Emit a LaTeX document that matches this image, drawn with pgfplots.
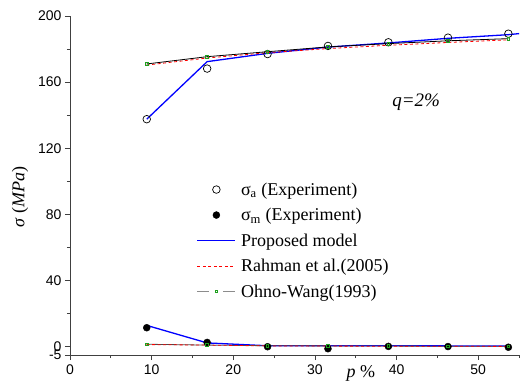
\documentclass[border=0pt]{standalone}
\usepackage{fontspec}
\setmainfont{Liberation Serif}
\newfontfamily\arialfont{Liberation Sans}
\usepackage{pgfplots}
\pgfplotsset{compat=1.18}
\definecolor{owgreen}{RGB}{30,160,30}
\pgfplotsset{
  oleg/.style={legend image code/.code={\draw[black, line width=0.7pt] (19pt,0pt) circle[radius=3.8pt];}},
  fleg/.style={legend image code/.code={\fill[black] (19pt,0pt) circle[radius=3.5pt];}},
  bleg/.style={legend image code/.code={\draw[blue, line width=1.3pt] (0pt,0pt) -- (38pt,0pt);}},
  rleg/.style={legend image code/.code={\draw[red, line width=0.8pt, dash pattern=on 3pt off 2.5pt] (0pt,0pt) -- (38pt,0pt);}},
  owlegend/.style={legend image code/.code={\draw[black!45, line width=1.3pt] (0pt,0pt) -- (12pt,0pt); \draw[black!45, line width=1.3pt] (26pt,0pt) -- (38pt,0pt); \draw[owgreen, line width=0.8pt] (17.7pt,-1.3pt) rectangle (20.3pt,1.3pt);}},
}
\begin{document}
\begin{tikzpicture}
\useasboundingbox (-70pt,-27pt) rectangle (451pt,355pt);
\begin{axis}[
  at={(0pt,0pt)}, anchor=south west,
  scale only axis, width=449pt, height=339pt,
  xmin=0, xmax=55, ymin=-5, ymax=200,
  axis x line*=bottom, axis y line*=left,
  axis line style={line width=0.8pt, black!75},
  tick align=outside, tick style={black!75, line width=0.8pt},
  major tick length=5pt, minor tick length=3pt,
  xtick={0,10,20,30,40,50}, minor xtick={5,15,25,35,45,55},
  xticklabels={0,10,20,30,40,50},
  ytick={-5,0,40,80,120,160,200}, minor ytick={20,60,100,140,180},
  yticklabels={-5,0,40,80,120,160,200},
  ticklabel style={font=\arialfont\fontsize{14}{14}\selectfont},
  xticklabel style={yshift=-1pt},
  xlabel={\textit{p} \%},
  xlabel style={at={(rel axis cs:0.648,0)}, anchor=center, yshift=-18pt, font=\fontsize{18}{18}\selectfont},
  ylabel={\textit{σ} (\textit{MPa})},
  ylabel style={at={(rel axis cs:-0.111,0.466)}, anchor=center, font=\fontsize{18}{18}\selectfont},
  legend style={at={(axis cs:15.5,100.6)}, anchor=north west, draw=none, fill=none,
    font=\fontsize{18}{19}\selectfont, row sep=7.5pt, column sep=3pt, inner sep=0pt, cells={anchor=west}},
  legend cell align=left,
  clip=true,
]
% sigma_a experiment
\addplot[only marks, mark=o, mark size=3.8pt, black, line width=0.7pt, oleg]
  coordinates {(9.4,137.6)(16.8,168.2)(24.2,177.0)(31.6,181.9)(39.0,184.1)(46.3,186.9)(53.7,189.3)};
\addlegendentry{σ\textsubscript{a} (Experiment)}
% sigma_m experiment
\addplot[only marks, mark=*, mark size=3.5pt, black, fleg]
  coordinates {(9.4,11.5)(16.8,2.6)(24.2,0.0)(31.6,-1.2)(39.0,0.2)(46.3,0.1)(53.7,-0.3)};
\addlegendentry{σ\textsubscript{m} (Experiment)}
% proposed model upper
\addplot[blue, line width=1.3pt, no marks, bleg]
  coordinates {(9.4,137.6)(16.8,172.4)(24.2,177.4)(31.6,181.2)(39.0,183.7)(46.3,186.5)(53.7,188.7)(55.5,189.6)};
\addlegendentry{Proposed model}
% Rahman upper
\addplot[red, line width=0.8pt, dash pattern=on 3pt off 2.5pt, no marks, rleg]
  coordinates {(9.4,170.3)(16.8,174.6)(24.2,177.8)(31.6,180.3)(39.0,182.3)(46.3,184.0)(53.7,185.6)};
\addlegendentry{Rahman et al.(2005)}
% Ohno-Wang upper
\addplot[black, line width=0.8pt, mark=square, mark size=1.3pt, mark options={owgreen, solid, line width=0.8pt}, owlegend]
  coordinates {(9.4,171.0)(16.8,175.4)(24.2,178.4)(31.6,181.3)(39.0,183.3)(46.3,185.0)(53.7,186.3)};
\addlegendentry{Ohno-Wang(1993)}
% lower curves
\addplot[forget plot, blue, line width=1.3pt, no marks]
  coordinates {(9.4,12.9)(16.8,2.3)(24.2,0.6)(31.6,0.6)(39.0,0.6)(46.3,0.5)(53.7,0.4)};
\addplot[forget plot, black!70, line width=0.8pt, mark=square, mark size=1.3pt, mark options={owgreen, solid, line width=0.8pt}]
  coordinates {(9.4,1.5)(16.8,1.0)(24.2,0.6)(31.6,0.5)(39.0,0.4)(46.3,0.3)(53.7,0.3)};
\addplot[forget plot, red, line width=0.8pt, dash pattern=on 3pt off 2.5pt, no marks]
  coordinates {(9.4,1.3)(16.8,1.0)(24.2,0.5)(31.6,0.4)(39.0,0.3)(46.3,0.3)(53.7,0.2)};
\node[font=\fontsize{19}{19}\selectfont\itshape] at (axis cs:42.4,148) {q=2\%};
\end{axis}
\end{tikzpicture}
\end{document}
